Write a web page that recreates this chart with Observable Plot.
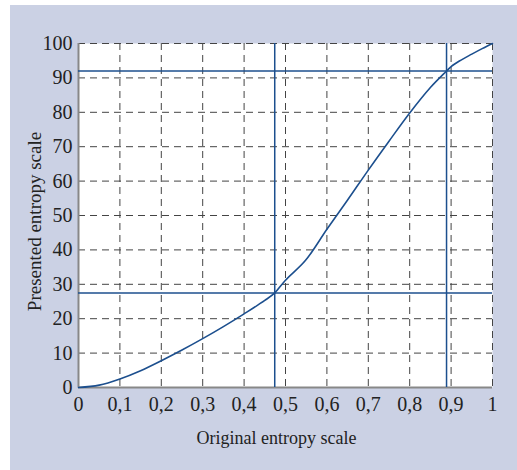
<!DOCTYPE html>
<html>
<head>
<meta charset="utf-8">
<script src="https://cdn.jsdelivr.net/npm/d3@7"></script>
<script src="https://cdn.jsdelivr.net/npm/@observablehq/plot@0.6"></script>
<style>
  html, body { margin: 0; padding: 0; background: #ffffff; }
  #wrap { position: relative; width: 517px; height: 470px; }
  #bg { position: absolute; left: 10px; top: 5px; width: 507px; height: 465px; background: #cbd1e4; }
  #chart { position: absolute; left: 0; top: 0; }
  #chart svg text { font-family: "Liberation Serif", "Times New Roman", serif; }
</style>
</head>
<body>
<div id="wrap"><div id="bg"></div><div id="chart"></div></div>
<script>
const xTicks = [0, 0.1, 0.2, 0.3, 0.4, 0.5, 0.6, 0.7, 0.8, 0.9, 1];
const yTicks = [0, 10, 20, 30, 40, 50, 60, 70, 80, 90, 100];
const xTickLabels = ["0", "0,1", "0,2", "0,3", "0,4", "0,5", "0,6", "0,7", "0,8", "0,9", "1"];
const yTickLabels = ["0", "10", "20", "30", "40", "50", "60", "70", "80", "90", "100"];
const curveX = [0, 0.05, 0.1, 0.15, 0.2, 0.25, 0.3, 0.35, 0.4, 0.45, 0.474, 0.5, 0.548, 0.6, 0.65, 0.7, 0.75, 0.8, 0.85, 0.889, 0.9, 0.92, 0.95, 0.975, 1];
const curveY = [0, 0.7, 2.5, 4.9, 7.8, 10.9, 14.2, 17.7, 21.4, 25.3, 27.5, 31.2, 36.9, 46.0, 54.5, 63.2, 71.6, 79.8, 87.2, 92, 93.3, 94.9, 96.9, 98.5, 100];
const vLines = [0.474, 0.889];
const hLines = [27.5, 92];
const xLabel = "Original entropy scale";
const yLabel = "Presented entropy scale";

const curve = curveX.map((x, i) => ({x, y: curveY[i]}));
const blue = "#1c4f8e";
const font = "Liberation Serif";

const chart = Plot.plot({
  width: 517,
  height: 470,
  marginLeft: 78,
  marginRight: 25,
  marginTop: 43,
  marginBottom: 83,
  style: { background: "transparent", fontFamily: font, fontSize: "19px", color: "#222" },
  x: { domain: [0, 1], axis: null },
  y: { domain: [0, 100], axis: null },
  marks: [
    Plot.frame({ fill: "white", stroke: "none" }),
    Plot.ruleX(xTicks, { stroke: "#444", strokeDasharray: "7,5", strokeWidth: 1 }),
    Plot.ruleY(yTicks, { stroke: "#444", strokeDasharray: "7,5", strokeWidth: 1 }),
    Plot.ruleX([0], { stroke: "#888", strokeWidth: 2 }),
    Plot.ruleY([0], { stroke: "#888", strokeWidth: 2 }),
    Plot.ruleX(vLines, { stroke: blue, strokeWidth: 1.5 }),
    Plot.ruleY(hLines, { stroke: blue, strokeWidth: 1.5 }),
    Plot.line(curve, { x: "x", y: "y", stroke: blue, strokeWidth: 1.6, curve: "catmull-rom" }),
    Plot.text(xTicks, { x: (d) => d, frameAnchor: "bottom", dy: 17, text: (d, i) => xTickLabels[i], fontSize: 20, fontFamily: font, fill: "#222", lineAnchor: "middle", textAnchor: "middle" }),
    Plot.text(yTicks, { y: (d) => d, frameAnchor: "left", dx: -6, text: (d, i) => yTickLabels[i], fontSize: 20, fontFamily: font, fill: "#222", lineAnchor: "middle", textAnchor: "end" }),
    Plot.text([xLabel], { frameAnchor: "bottom", dx: -9, dy: 51, text: (d) => d, fontSize: 18, fontFamily: font, fill: "#222", lineAnchor: "middle", textAnchor: "middle" }),
    Plot.text([yLabel], { frameAnchor: "left", dx: -44, dy: 6, rotate: -90, text: (d) => d, fontSize: 19, fontFamily: font, fill: "#222", lineAnchor: "middle", textAnchor: "middle" })
  ]
});
document.getElementById("chart").appendChild(chart);
</script>
</body>
</html>
